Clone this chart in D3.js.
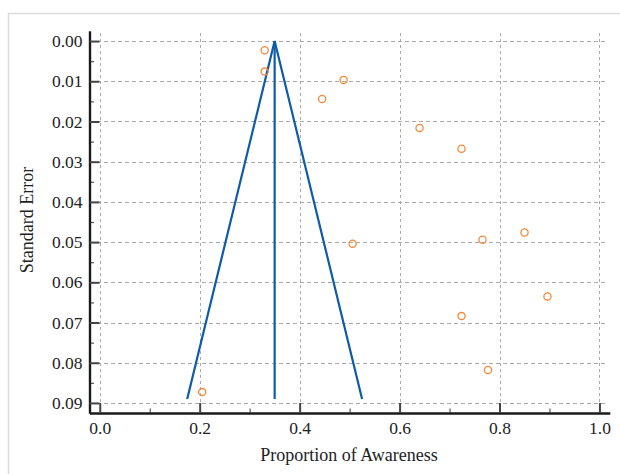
<!DOCTYPE html>
<html>
<head>
<meta charset="utf-8">
<script src="https://cdn.jsdelivr.net/npm/d3@7"></script>
<style>
  html, body { margin: 0; padding: 0; background: #fff; }
  svg { display: block; }
  text { font-family: "Liberation Serif", "Times New Roman", serif; fill: #222; }
</style>
</head>
<body>
<svg id="chart" width="620" height="474"></svg>
<script>
// Study data: proportion of awareness and its standard error
const studyProportion = [0.330, 0.330, 0.488, 0.445, 0.640, 0.724, 0.850, 0.766, 0.506, 0.896, 0.724, 0.777, 0.205];
const studySE         = [0.0023, 0.0076, 0.0097, 0.0144, 0.0216, 0.0268, 0.0476, 0.0494, 0.0504, 0.0635, 0.0684, 0.0818, 0.0873];

// Funnel: pooled estimate and 95% limits at the largest SE
const funnelX  = [0.175, 0.35, 0.525];
const funnelSE = [0.089, 0.000, 0.089];
const pooledX  = [0.35, 0.35];
const pooledSE = [0.000, 0.089];

const xTicks = [0.0, 0.2, 0.4, 0.6, 0.8, 1.0];
const xMinor = [0.1, 0.3, 0.5, 0.7, 0.9];
const yTicks = [0.00, 0.01, 0.02, 0.03, 0.04, 0.05, 0.06, 0.07, 0.08, 0.09];
const yMinor = [0.005, 0.015, 0.025, 0.035, 0.045, 0.055, 0.065, 0.075, 0.085];

const svg = d3.select("#chart");

// outer frame
svg.append("rect")
  .attr("x", 8.5).attr("y", 13.5)
  .attr("width", 640).attr("height", 480)
  .attr("fill", "none").attr("stroke", "#dcdcdc").attr("stroke-width", 1.5);

const x = d3.scaleLinear().domain([-0.0205, 1.0205]).range([89.5, 609.7]);
const y = d3.scaleLinear().domain([-0.0025, 0.0925]).range([31, 413]);

// grid
const grid = svg.append("g").attr("stroke", "#ababab").attr("stroke-width", 1)
  .attr("fill", "none");
grid.selectAll("line.v").data(xTicks).join("line")
  .attr("stroke-dasharray", "3,3")
  .attr("x1", d => Math.round(x(d)) + 0.5).attr("x2", d => Math.round(x(d)) + 0.5)
  .attr("y1", 33).attr("y2", y.range()[1]);
grid.selectAll("line.h").data(yTicks).join("line")
  .attr("stroke-dasharray", "4,3")
  .attr("x1", 90).attr("x2", 606)
  .attr("y1", d => Math.round(y(d)) + 0.5).attr("y2", d => Math.round(y(d)) + 0.5);

// axes
const fmt2 = d3.format(".2f"), fmt1 = d3.format(".1f");
const yAxisMinor = svg.append("g").attr("transform", `translate(${x.range()[0]},0)`)
  .call(d3.axisLeft(y).tickValues(yMinor).tickFormat("").tickSizeInner(-4.5).tickSizeOuter(0));
const xAxisMinor = svg.append("g").attr("transform", `translate(0,${y.range()[1]})`)
  .call(d3.axisBottom(x).tickValues(xMinor).tickFormat("").tickSizeInner(-4.5).tickSizeOuter(0));
const yAxis = svg.append("g").attr("transform", `translate(${x.range()[0]},0)`)
  .call(d3.axisLeft(y).tickValues(yTicks).tickFormat(fmt2).tickSizeInner(-10).tickSizeOuter(0).tickPadding(7));
const xAxis = svg.append("g").attr("transform", `translate(0,${y.range()[1]})`)
  .call(d3.axisBottom(x).tickValues(xTicks).tickFormat(fmt1).tickSizeInner(-10).tickSizeOuter(0).tickPadding(9));

[yAxis, xAxis, yAxisMinor, xAxisMinor].forEach(g => {
  g.select(".domain").attr("stroke", "#1a1a1a").attr("stroke-width", 2.2);
  g.selectAll(".tick line").attr("stroke", "#444").attr("stroke-width", 2);
  g.selectAll(".tick text").attr("font-size", 17.5).attr("fill", "#222")
    .style("font-family", '"Liberation Serif", "Times New Roman", serif');
});
yAxisMinor.selectAll(".tick line").attr("stroke-width", 1.2).attr("stroke", "#555");
xAxisMinor.selectAll(".tick line").attr("stroke-width", 1.2).attr("stroke", "#555");
xAxis.selectAll(".tick text").attr("dy", "0.71em");

// funnel lines
const line = d3.line().x(d => x(d[0])).y(d => y(d[1]));
svg.append("path")
  .attr("d", line(funnelX.map((v, i) => [v, funnelSE[i]])))
  .attr("fill", "none").attr("stroke", "#0e5ca8").attr("stroke-width", 2.2)
  .attr("stroke-linejoin", "miter");
svg.append("path")
  .attr("d", line(pooledX.map((v, i) => [v, pooledSE[i]])))
  .attr("fill", "none").attr("stroke", "#0e5ca8").attr("stroke-width", 2.2);

// study points
svg.append("g").selectAll("circle")
  .data(studyProportion.map((p, i) => ({ p, se: studySE[i] })))
  .join("circle")
  .attr("cx", d => x(d.p)).attr("cy", d => y(d.se)).attr("r", 3.6)
  .attr("fill", "none").attr("stroke", "#f5883a").attr("stroke-width", 1.3);

// axis titles
svg.append("text")
  .attr("x", 349).attr("y", 461)
  .attr("text-anchor", "middle").attr("font-size", 18)
  .text("Proportion of Awareness");
svg.append("text")
  .attr("transform", "translate(33,220) rotate(-90)")
  .attr("text-anchor", "middle").attr("font-size", 18)
  .text("Standard Error");
</script>
</body>
</html>
